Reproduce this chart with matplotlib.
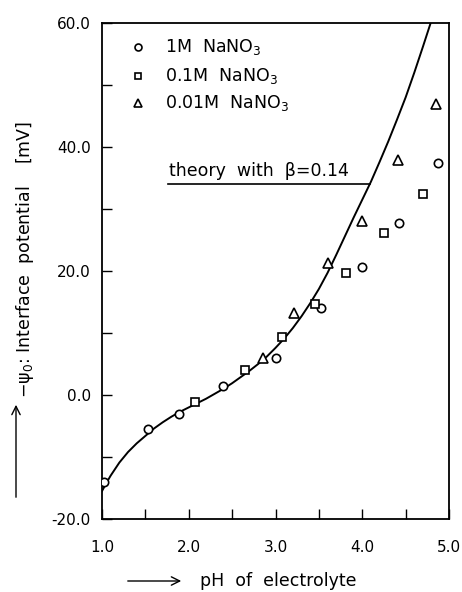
import matplotlib
matplotlib.use("Agg")
import matplotlib.pyplot as plt
from matplotlib.patches import FancyArrowPatch
from matplotlib.ticker import MultipleLocator, FixedFormatter, FixedLocator

# measured interface potential (mV) vs pH
ph_1m = [1.02, 1.525, 1.885, 2.395, 3.008, 3.525, 3.996, 4.425, 4.877]
psi_1m = [-14.0, -5.5, -3.1, 1.4, 5.9, 14.0, 20.7, 27.8, 37.5]

ph_01m = [2.069, 2.644, 3.077, 3.456, 3.81, 4.245, 4.705]
psi_01m = [-1.2, 4.1, 9.4, 14.7, 19.7, 26.2, 32.4]

ph_001m = [2.854, 3.218, 3.61, 4.0, 4.417, 4.847]
psi_001m = [5.9, 13.2, 21.3, 28.1, 37.9, 46.9]

# theory curve, beta = 0.14
ph_th = [1.0, 1.05, 1.1, 1.2, 1.3, 1.4, 1.5, 1.6, 1.7, 1.8, 1.9, 2.0,
         2.1, 2.2, 2.3, 2.4, 2.5, 2.6, 2.7, 2.8, 2.9, 3.0, 3.1, 3.2,
         3.3, 3.4, 3.5, 3.6, 3.7, 3.8, 3.9, 4.0, 4.1, 4.2, 4.3, 4.4,
         4.5, 4.6, 4.7, 4.8, 4.85]
psi_th = [-15.5, -14.2, -13.0, -10.9, -9.2, -7.8, -6.6, -5.4, -4.4, -3.5, -2.7, -2.0,
          -1.3, -0.6, 0.2, 1.0, 1.9, 2.9, 3.9, 5.0, 6.2, 7.6, 9.1, 10.8,
          12.7, 14.8, 17.1, 19.7, 22.6, 25.6, 28.6, 31.5, 34.4, 37.6, 40.9, 44.4,
          48.0, 52.0, 56.2, 60.5, 62.6]

xticklabels = ["1.0", "2.0", "3.0", "4.0", "5.0"]
yticklabels = ["-20.0", "0.0", "20.0", "40.0", "60.0"]

fig = plt.figure(figsize=(4.62, 5.92), dpi=100)
ax = fig.add_axes([102 / 462, 73 / 592, 347 / 462, 496 / 592])

ax.plot(ph_th, psi_th, color="black", lw=1.4, zorder=2)

mk = dict(linestyle="none", markerfacecolor="white", markeredgecolor="black",
          markeredgewidth=1.2, zorder=3)
ax.plot(ph_1m, psi_1m, marker="o", markersize=6, **mk)
ax.plot(ph_01m, psi_01m, marker="s", markersize=5.5, **mk)
ax.plot(ph_001m, psi_001m, marker="^", markersize=6.5, **mk)

ax.set_xlim(1.0, 5.0)
ax.set_ylim(-20, 60)

ax.xaxis.set_major_locator(FixedLocator([1, 2, 3, 4, 5]))
ax.xaxis.set_major_formatter(FixedFormatter(xticklabels))
ax.xaxis.set_minor_locator(MultipleLocator(0.5))
ax.yaxis.set_major_locator(FixedLocator([-20, 0, 20, 40, 60]))
ax.yaxis.set_major_formatter(FixedFormatter(yticklabels))
ax.yaxis.set_minor_locator(MultipleLocator(10))

ax.tick_params(axis="x", which="both", direction="in", length=7, width=1.0, pad=15, labelsize=11)
ax.tick_params(axis="y", which="both", direction="in", length=7, width=1.0, pad=8, labelsize=11)
for s in ax.spines.values():
    s.set_linewidth(1.3)

# legend drawn by hand
leg_y = [0.952, 0.893, 0.839]
leg_m = [("o", 5.0), ("s", 5.0), ("^", 6.0)]
leg_t = ["1M  NaNO$_3$", "0.1M  NaNO$_3$", "0.01M  NaNO$_3$"]
for yy, (m, ms), t in zip(leg_y, leg_m, leg_t):
    ax.plot([0.103], [yy], marker=m, markersize=ms, transform=ax.transAxes, clip_on=False, **mk)
    ax.text(0.182, yy, t, transform=ax.transAxes, fontsize=12.5, va="center", ha="left")

# theory label with underline to the curve
ax.text(1.77, 35.4, "theory  with  β=0.14", fontsize=12.5, va="baseline", ha="left")
ax.plot([1.76, 4.09], [34.0, 34.0], color="black", lw=1.2)

# axis labels with arrows
fig.text(200 / 462, 11 / 592, "pH  of  electrolyte", fontsize=12.5, va="center", ha="left")
fig.add_artist(FancyArrowPatch(
    (125 / 462, 11 / 592), (184 / 462, 11 / 592), transform=fig.transFigure,
    arrowstyle="->,head_length=6,head_width=3", lw=1.0, color="black"))

fig.text(25 / 462, 1 - 260 / 592, "−ψ$_0$: Interface  potential    [mV]",
         fontsize=12.5, rotation=90, va="center", ha="center")
fig.add_artist(FancyArrowPatch(
    (16 / 462, 92 / 592), (16 / 462, 190 / 592), transform=fig.transFigure,
    arrowstyle="->,head_length=6,head_width=3", lw=1.0, color="black"))

fig.savefig("out.png", dpi=100)
